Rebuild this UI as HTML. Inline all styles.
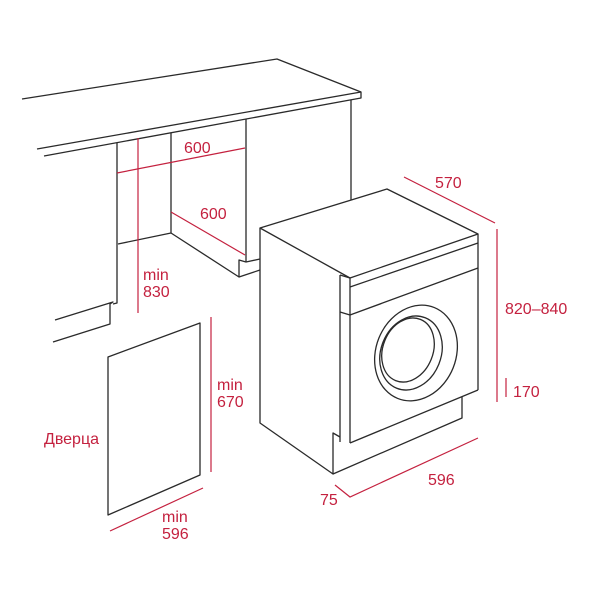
<!DOCTYPE html>
<html><head><meta charset="utf-8"><style>
html,body{margin:0;padding:0;background:#fff;width:600px;height:600px;overflow:hidden}
svg text{font-family:"Liberation Sans",sans-serif;font-size:16px;fill:#c4213f}
</style></head><body>
<svg width="600" height="600" viewBox="0 0 600 600">
<g fill="none" stroke="#2a2a2a" stroke-width="1.3" stroke-linejoin="round">
<polyline points="22,99 277,59 361,92 361,98 350,100 44,156"/>
<line x1="37" y1="149" x2="361" y2="92"/>
<line x1="351" y1="100" x2="351" y2="200"/>
<polyline points="117,143 117,303 113,304"/>
<polyline points="55,320 113,302 110,304 110,324 53,342"/>
<line x1="171" y1="133" x2="171" y2="233"/>
<line x1="118" y1="244" x2="171" y2="233"/>
<polyline points="171,233 239,277 239,260 246,262 260,259"/>
<line x1="239" y1="277" x2="260" y2="270"/>
<line x1="246" y1="119" x2="246" y2="262"/>
<polygon points="260,228 387,189 478,234 350,278"/>
<polyline points="260,228 260,423 333,474 333,433 340,437"/>
<line x1="350" y1="278" x2="350" y2="443"/>
<line x1="340" y1="275" x2="340" y2="442"/>
<line x1="340" y1="275" x2="350" y2="278"/>
<line x1="350" y1="287" x2="478" y2="243"/>
<line x1="340" y1="312" x2="350" y2="315"/>
<line x1="350" y1="315" x2="478" y2="268"/>
<line x1="478" y1="234" x2="478" y2="390"/>
<line x1="350" y1="443" x2="478" y2="390"/>
<polyline points="462,397 462,418 333,474"/>
<ellipse cx="416" cy="353" rx="40" ry="49" transform="rotate(22 416 353)"/>
<ellipse cx="411" cy="353" rx="30" ry="38" transform="rotate(22 411 353)"/>
<ellipse cx="408" cy="350" rx="25" ry="33" transform="rotate(22 408 350)"/>
<polygon points="108,357 200,323 200,475 108,515"/>
</g>
<g stroke="#c4213f" stroke-width="1.2" fill="none">
<line x1="138" y1="138" x2="138" y2="313"/>
<line x1="117" y1="173" x2="245" y2="148"/>
<line x1="171" y1="212" x2="245" y2="255"/>
<line x1="404" y1="177" x2="495" y2="223"/>
<line x1="497" y1="229" x2="497" y2="402"/>
<line x1="506" y1="378" x2="506" y2="397"/>
<polyline points="335,485 350,497 478,438"/>
<line x1="211" y1="317" x2="211" y2="472"/>
<line x1="110" y1="531" x2="203" y2="488"/>
</g>
<text x="184" y="153">600</text>
<text x="200" y="219">600</text>
<text x="143" y="280">min</text>
<text x="143" y="297">830</text>
<text x="435" y="188">570</text>
<text x="505" y="314">820–840</text>
<text x="513" y="397">170</text>
<text x="428" y="485">596</text>
<text x="320" y="505">75</text>
<text x="217" y="390">min</text>
<text x="217" y="407">670</text>
<text x="44" y="444">Дверца</text>
<text x="162" y="522">min</text>
<text x="162" y="539">596</text>
</svg>
</body></html>
